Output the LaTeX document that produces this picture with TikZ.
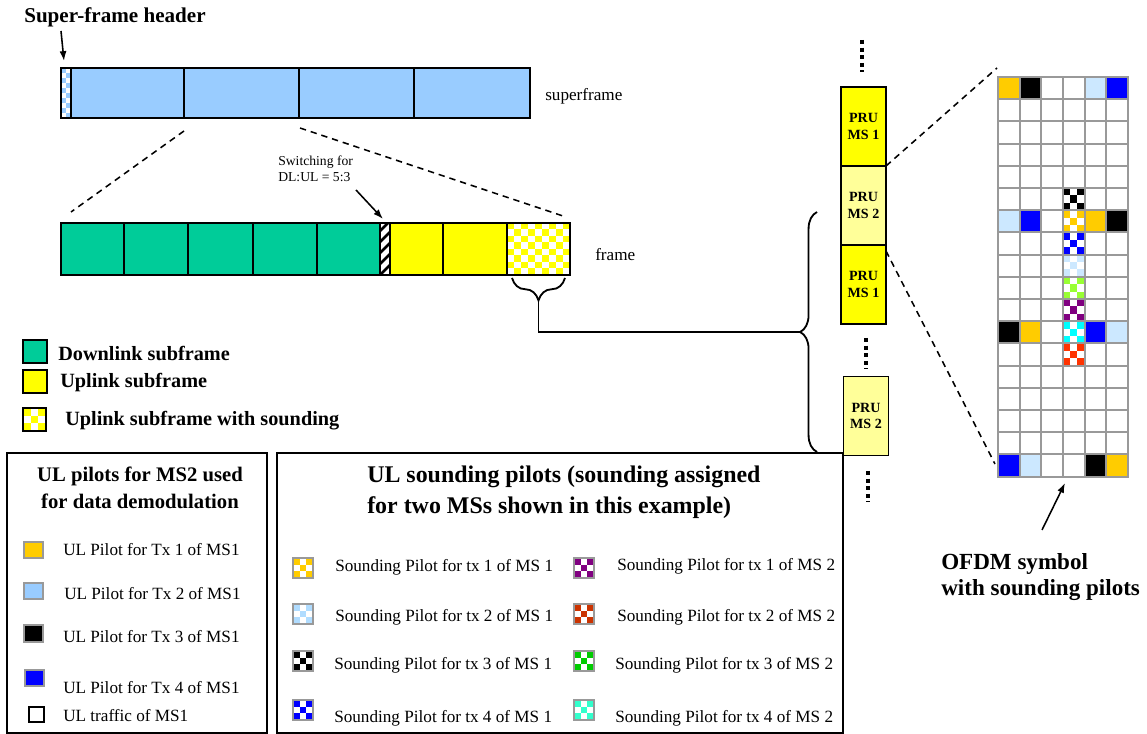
\documentclass[tikz,border=0pt]{standalone}
\usepackage{fontspec}
\setmainfont{Liberation Serif}
\usetikzlibrary{arrows.meta,decorations.pathreplacing}

\definecolor{sfblue}{HTML}{99CCFF}
\definecolor{dlgreen}{HTML}{00CC99}
\definecolor{ulyellow}{HTML}{FFFF00}
\definecolor{pruyellow}{HTML}{FFFF99}
\definecolor{pilotorange}{HTML}{FFCC00}
\definecolor{pilotlblue}{HTML}{CCE8FF}
\definecolor{pilotblue}{HTML}{0000FF}
\definecolor{gridgray}{HTML}{999999}
\definecolor{sndpurple}{HTML}{800080}
\definecolor{sndred}{HTML}{FF3300}
\definecolor{sndlime}{HTML}{99FF33}
\definecolor{sndcyan}{HTML}{00FFFF}
\definecolor{sndgreen}{HTML}{00CC00}
\definecolor{sndaqua}{HTML}{33FFCC}
\definecolor{sndbrick}{HTML}{CC3300}
\definecolor{sndlblue}{HTML}{B0DCFF}

\newcommand{\chkbox}[5]{%
  \fill[white] ({#1},{#2}) rectangle ++({#3},{#4});
  \foreach \ci in {0,1,2}{\foreach \cj in {0,1,2}{
    \pgfmathtruncatemacro{\cpar}{mod(\ci+\cj,2)}
    \ifnum\cpar=0 \fill[#5] ({#1+\ci*#3/3},{#2+\cj*#4/3}) rectangle ++({#3/3},{#4/3});\fi}}}

\begin{document}
\begin{tikzpicture}[x=0.025cm,y=-0.025cm,
  bar/.style={draw,line width=1.3pt},
  cut/.style={dashed,line width=1.1pt,dash pattern=on 4.5pt off 3.5pt},
  dots/.style={line width=3pt,dash pattern=on 2.8pt off 2.6pt},
  arr/.style={-{Latex[length=7pt,width=5pt]},line width=1.1pt},
  gridline/.style={draw=gridgray,line width=1.3pt},
  pru/.style={draw,line width=1.3pt,inner sep=0pt,outer sep=0pt,minimum width=1.125cm,minimum height=1.975cm,align=center,font=\bfseries\fontsize{10}{12}\selectfont},
  txt/.style={anchor=west,inner sep=0pt,font=\fontsize{12.2}{14}\selectfont},
  btxt/.style={anchor=west,inner sep=0pt,font=\bfseries\fontsize{14.4}{16}\selectfont}]
\useasboundingbox (0,0) rectangle (1147,734);

% superframe
\fill[sfblue] (61,68) rectangle (530,118);
\fill[white] (61,68) rectangle (71,118);
\foreach \i in {0,1}{\foreach \j in {0,...,9}{
  \pgfmathtruncatemacro{\cpar}{mod(\i+\j,2)}
  \ifnum\cpar=0 \fill[sfblue] ({61+\i*5},{68+\j*5}) rectangle ++(5,5);\fi}}
\draw[bar] (61,68) rectangle (71,118);
\foreach \a/\b in {71/184,184/299,299/414,414/530}
  \draw[bar] (\a,68) rectangle (\b,118);
\node[anchor=west,inner sep=0pt,font=\bfseries\fontsize{15}{17}\selectfont] (sfhdr) at (24,17) {Super-frame header};
\coordinate (hdrtail) at (61,31);
\coordinate (hdrtip) at (64,61);
\draw[arr] (hdrtail) -- (hdrtip);
\node[txt] (sflbl) at (545,96) {superframe};

% frame
\foreach \a/\b in {61/124,124/188,188/253,253/317,317/380}
  \draw[bar,fill=dlgreen] (\a,223) rectangle (\b,275);
\begin{scope}
  \clip (380,223) rectangle (390,275);
  \fill[white] (380,223) rectangle (390,275);
  \foreach \k in {-1,...,5}
    \draw[line width=1.8pt] (380,{231+\k*11}) -- (390,{221+\k*11});
\end{scope}
\draw[bar] (380,223) rectangle (390,275);
\foreach \a/\b in {390/443,443/507}
  \draw[bar,fill=ulyellow] (\a,223) rectangle (\b,275);
\fill[white] (507,223) rectangle (570,275);
\foreach \i in {0,...,8}{\foreach \j in {0,...,7}{
  \pgfmathtruncatemacro{\cpar}{mod(\i+\j,2)}
  \ifnum\cpar=0 \fill[ulyellow] ({507+\i*7},{223+\j*6.5}) rectangle ++(7,6.5);\fi}}
\draw[bar] (507,223) rectangle (570,275);
\node[txt] (frlbl) at (595,255) {frame};

\coordinate (sfcutl) at (184,131);
\coordinate (sfcutr) at (300,128);
\coordinate (frcutl) at (71,212);
\coordinate (frcutr) at (566,217);
\draw[cut] (sfcutl) -- (frcutl);
\draw[cut] (sfcutr) -- (frcutr);

\node[anchor=west,inner sep=0pt,align=left,font=\fontsize{9.7}{11.3}\selectfont] (swlbl) at (278,169) {Switching for\\DL:UL = 5:3};
\coordinate (swtail) at (356,190);
\coordinate (swtip) at (383,219);
\draw[arr] (swtail) -- (swtip);

% braces
\draw[line width=1.3pt,decorate,decoration={brace,amplitude=16pt}] (565,278) -- (512,278);
\draw[line width=1.3pt,decorate,decoration={brace,amplitude=12pt}] (817,452) -- (817,212);
\coordinate (smalltip) at (538.5,300);
\coordinate (bigtip) at (800,332);
\draw[line width=1.3pt] (smalltip) |- (bigtip);

% PRUs
\node[pru,fill=ulyellow] (pru1) at (863.5,126.5) {PRU\\MS 1};
\node[pru,fill=pruyellow,anchor=north] (pru2) at (pru1.south) {PRU\\MS 2};
\node[pru,fill=ulyellow,anchor=north] (pru3) at (pru2.south) {PRU\\MS 1};
\node[pru,fill=pruyellow] (pru4) at (866,416) {PRU\\MS 2};
\draw[dots] (862,40) -- (862,72);
\draw[dots] (866,338) -- (866,369);
\draw[dots] (868,471) -- (868,502);

% OFDM grid
\coordinate (gridtop) at (997,68);
\coordinate (gridbot) at (995,464);
\draw[cut] (pru2.north east) -- (gridtop);
\draw[cut] ([yshift=-0.15cm]pru2.south east) -- (gridbot);
\foreach \r/\c/\col in {0/0/pilotorange,0/1/black,0/4/pilotlblue,0/5/pilotblue,
  6/0/pilotlblue,6/1/pilotblue,6/4/pilotorange,6/5/black,
  11/0/black,11/1/pilotorange,11/4/pilotblue,11/5/pilotlblue,
  17/0/pilotblue,17/1/pilotlblue,17/4/black,17/5/pilotorange}
  \fill[\col] ({998+\c*21.67},{77+\r*22.2}) rectangle ++(21.67,22.2);
\foreach \r/\col in {5/black,6/pilotorange,7/pilotblue,8/pilotlblue,9/sndlime,10/sndpurple,11/sndcyan,12/sndred}
  \chkbox{998+3*21.67}{77+\r*22.2}{21.67}{22.2}{\col}
\foreach \r in {0,...,17}{\foreach \c in {0,...,5}{
  \draw[gridline] ({998+\c*21.67},{77+\r*22.2}) rectangle ++(21.67,22.2);}}
\coordinate (ofdmtip) at (1065,483);
\coordinate (ofdmtail) at (1042,530);
\draw[arr] (ofdmtail) -- (ofdmtip);
\node[anchor=west,inner sep=0pt,align=left,font=\bfseries\fontsize{16.4}{19}\selectfont] (ofdmlbl) at (941,577) {OFDM symbol\\with sounding pilots};

% subframe legend
\draw[bar,fill=dlgreen] (23,340) rectangle (47,363);
\draw[bar,fill=ulyellow] (23,370) rectangle (47,393);
\chkbox{23}{408}{23}{23}{ulyellow}
\draw[bar] (23,408) rectangle (46,431);
\node[btxt] (dllbl) at (58,353) {Downlink subframe};
\node[btxt] (ullbl) at (60,383) {Uplink subframe};
\node[btxt] (snlbl) at (65,421) {Uplink subframe with sounding};

% UL pilot legend
\draw[line width=1.4pt] (7,453) rectangle (267,733);
\node[align=center,inner sep=0pt,font=\bfseries\fontsize{14.7}{19}\selectfont] (pltitle) at (140,488) {UL pilots for MS2 used\\for data demodulation};
\draw[gridgray,line width=1pt,fill=pilotorange] (24,542) rectangle (43,558);
\draw[gridgray,line width=1pt,fill=sfblue] (24,583) rectangle (43,599);
\draw[gridgray,line width=1pt,fill=black] (24,625) rectangle (43,642);
\draw[gridgray,line width=1pt,fill=pilotblue] (25,670) rectangle (44,686);
\draw[line width=1.3pt,fill=white] (29,707) rectangle (44,722);
\node[txt] (pl1) at (63,550) {UL Pilot for Tx 1 of MS1};
\node[txt] (pl2) at (64,594) {UL Pilot for Tx 2 of MS1};
\node[txt] (pl3) at (63,637) {UL Pilot for Tx 3 of MS1};
\node[txt] (pl4) at (63,688) {UL Pilot for Tx 4 of MS1};
\node[txt] (pl5) at (63,716) {UL traffic of MS1};

% sounding legend
\draw[line width=1.4pt] (277,453) rectangle (843,733);
\node[anchor=west,align=left,inner sep=0pt,font=\bfseries\fontsize{17}{22}\selectfont] (sntitle) at (367,492) {UL sounding pilots (sounding assigned\\for two MSs shown in this example)};
\foreach \y/\col/\k in {558/pilotorange/1,604/sndlblue/2,651/black/3,700/pilotblue/4}{
  \chkbox{293}{\y}{20}{20}{\col}
  \draw[gridgray,line width=0.9pt] (293,\y) rectangle ++(20,20);}
\foreach \y/\col in {558/sndpurple,604/sndbrick,651/sndgreen,700/sndaqua}{
  \chkbox{574}{\y}{20}{20}{\col}
  \draw[gridgray,line width=0.9pt] (574,\y) rectangle ++(20,20);}
\node[txt] (sa1) at (335,567) {Sounding Pilot for tx 1 of MS 1};
\node[txt] (sa2) at (335,617) {Sounding Pilot for tx 2 of MS 1};
\node[txt] (sa3) at (334,665) {Sounding Pilot for tx 3 of MS 1};
\node[txt] (sa4) at (334,718) {Sounding Pilot for tx 4 of MS 1};
\node[txt] (sb1) at (617,566) {Sounding Pilot for tx 1 of MS 2};
\node[txt] (sb2) at (617,617) {Sounding Pilot for tx 2 of MS 2};
\node[txt] (sb3) at (615,665) {Sounding Pilot for tx 3 of MS 2};
\node[txt] (sb4) at (615,718) {Sounding Pilot for tx 4 of MS 2};
\end{tikzpicture}
\end{document}
